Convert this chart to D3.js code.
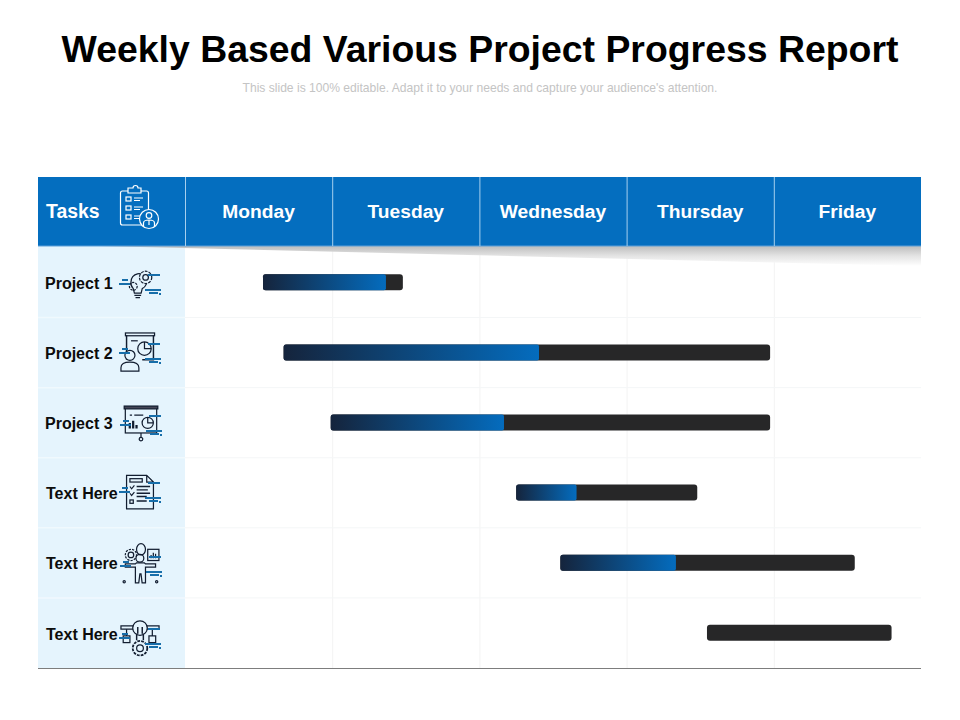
<!DOCTYPE html>
<html><head><meta charset="utf-8"><script src="https://cdn.jsdelivr.net/npm/d3@7"></script>
<style>html,body{margin:0;background:#fff}svg{display:block}text{font-family:"Liberation Sans",Arial,sans-serif}</style></head>
<body><svg id="c" width="960" height="720"></svg>
<script>
const days = ["Monday","Tuesday","Wednesday","Thursday","Friday"];
const tasks = ["Project 1","Project 2","Project 3","Text Here","Text Here","Text Here"];
const starts = [0.53,0.67,0.99,2.25,2.55,3.546];
const ends = [1.48,3.975,3.975,3.48,4.55,4.80];
const progress = [1.365,2.405,2.167,2.66,3.335,3.546];
const title = "Weekly Based Various Project Progress Report";
const subtitle = "This slide is 100% editable. Adapt it to your needs and capture your audience's attention.";

const svg = d3.select("#c");
const x = d3.scaleLinear().domain([0,5]).range([185,921]);
const rowIdx = d3.range(tasks.length);
const y = d3.scaleBand().domain(rowIdx).range([247.5,668]);
const L = 38, HT = 177, HB = 246, R = 921;
const BLUE = "#046ebf", PALE = "#e5f4fd";
const defs = svg.append("defs");
const g1 = defs.append("linearGradient").attr("id","shadow").attr("x1",0).attr("x2",0).attr("y1",0).attr("y2",1);
g1.append("stop").attr("offset",0).attr("stop-color","#bdbdbd");
g1.append("stop").attr("offset",.5).attr("stop-color","#e4e4e4");
g1.append("stop").attr("offset",1).attr("stop-color","#ffffff");
rowIdx.forEach(i=>{
  const g = defs.append("linearGradient").attr("id","bar"+i);
  g.append("stop").attr("offset",0).attr("stop-color","#15243c");
  g.append("stop").attr("offset",1).attr("stop-color","#046cbe");
});

svg.append("text").attr("x",480).attr("y",62).attr("text-anchor","middle").attr("font-size",37.4).attr("font-weight",700).attr("fill","#000").text(title);
svg.append("text").attr("x",480).attr("y",92).attr("text-anchor","middle").attr("font-size",12.1).attr("fill","#c4c4c4").text(subtitle);

svg.append("rect").attr("x",L).attr("y",HB).attr("width",x(0)-L).attr("height",668-HB).attr("fill",PALE);
svg.selectAll("line.v").data(d3.range(1,5)).join("line").attr("class","v")
  .attr("x1",d=>x(d)+.5).attr("x2",d=>x(d)+.5).attr("y1",HB).attr("y2",668).attr("stroke","#f3f3f3");
svg.selectAll("line.h").data(rowIdx.slice(1)).join("line").attr("class","h")
  .attr("x1",x(0)).attr("x2",R).attr("y1",d=>y(d)).attr("y2",d=>y(d)).attr("stroke","#f4f6f7");
svg.selectAll("line.hl").data(rowIdx.slice(1)).join("line").attr("class","hl")
  .attr("x1",L).attr("x2",x(0)).attr("y1",d=>y(d)).attr("y2",d=>y(d)).attr("stroke","#f0f9fe").attr("stroke-width",1.5);
svg.append("line").attr("x1",L).attr("x2",R).attr("y1",668.5).attr("y2",668.5).attr("stroke","#7d7d7d").attr("stroke-width",1.1);
svg.append("path").attr("d",`M${L+60},${HB} L${R},${HB} L${R},266 Z`).attr("fill","url(#shadow)");
svg.append("rect").attr("x",L).attr("y",HT).attr("width",R-L).attr("height",HB-HT).attr("fill",BLUE);
svg.append("line").attr("x1",L).attr("x2",R).attr("y1",HB).attr("y2",HB).attr("stroke","#5c9fd8");
svg.selectAll("line.hv").data(d3.range(0,5)).join("line").attr("class","hv")
  .attr("x1",d=>x(d)+.5).attr("x2",d=>x(d)+.5).attr("y1",HT).attr("y2",HB).attr("stroke","#a6cfee");
svg.selectAll("text.day").data(days).join("text").attr("class","day")
  .attr("x",(d,i)=>x(i+.5)).attr("y",218).attr("text-anchor","middle").attr("font-size",19.2).attr("font-weight",700).attr("fill","#fff").text(d=>d);
svg.append("text").attr("x",46).attr("y",218).attr("font-size",19.4).attr("font-weight",700).attr("fill","#fff").text("Tasks");

const ci = svg.append("g").attr("fill","none").attr("stroke","#fff").attr("stroke-width",1.2);
ci.append("rect").attr("x",120.5).attr("y",191).attr("width",28).attr("height",34).attr("rx",2);
ci.append("path").attr("d","M128,191 v-3 h5 a2.5,2.5 0 0 1 5,0 h3 v5 h-13 z").attr("fill",BLUE);
[197,206,215].forEach(yy=>{
  ci.append("rect").attr("x",126).attr("y",yy).attr("width",5).attr("height",4);
  ci.append("path").attr("d",`M134,${yy+1}h9M134,${yy+3.5}h6`);
});
ci.append("circle").attr("cx",149).attr("cy",219).attr("r",9.5).attr("fill",BLUE);
ci.append("circle").attr("cx",149).attr("cy",215.5).attr("r",2.8);
ci.append("path").attr("d","M143.5,226 v-3 q0,-3 5.5,-3 q5.5,0 5.5,3 v3 M149,220 v5");

const labelX = [45,45,45,46,46,46];
const labelY = [283,353,423,493,563,634];
svg.selectAll("text.task").data(tasks).join("text").attr("class","task")
  .attr("x",(d,i)=>labelX[i]).attr("y",(d,i)=>labelY[i]+5.5).attr("font-size",16).attr("font-weight",700).attr("fill","#0c0c0c").text(d=>d);

const iconFns = [
 g=>{
  g.append("path").attr("d","M-8,-1 a7,7 0 1 1 10,6 l-1,4 h-6 l-1,-4 a7,7 0 0 1 -2,-6z");
  g.append("path").attr("d","M-5,11h6M-4,13h4");
  g.append("circle").attr("cx",5).attr("cy",-5).attr("r",5.5).attr("stroke-dasharray","2.5 1").attr("fill",PALE);
  g.append("circle").attr("cx",5).attr("cy",-5).attr("r",2.5);
  g.append("circle").attr("cx",-6).attr("cy",3).attr("r",3.5).attr("stroke-dasharray","2 1");
 },
 g=>{
  g.append("path").attr("d","M-12,-15 v22 M12,-15 v22 h-10").attr("stroke-width",1.3);
  g.append("rect").attr("x",-13).attr("y",-17).attr("width",26).attr("height",2.5);
  g.append("path").attr("d","M-8,-10h6");
  g.append("circle").attr("cx",4).attr("cy",-3).attr("r",6);
  g.append("path").attr("d","M4,-9 v6 h6");
  g.append("circle").attr("cx",-9).attr("cy",3).attr("r",4.5).attr("fill",PALE);
  g.append("path").attr("d","M-17,17 v-3 q0,-5 8,-5 q8,0 8,5 v3 z").attr("fill",PALE);
 },
 g=>{
  g.append("rect").attr("x",-14).attr("y",-15).attr("width",28).attr("height",23);
  g.append("path").attr("d","M0,8v4");
  g.append("rect").attr("x",-15).attr("y",-16).attr("width",30).attr("height",2.5).attr("fill","#445");
  g.append("circle").attr("cx",0).attr("cy",13.5).attr("r",1.6);
  g.append("path").attr("d","M-6,-8h8M-10,-8h2");
  g.append("path").attr("d","M-10,4v-5M-7,4v-7M-4,4v-3").attr("stroke-width",2);
  g.append("circle").attr("cx",6).attr("cy",-1).attr("r",5);
  g.append("path").attr("d","M6,-6v5h5");
 },
 g=>{
  g.append("path").attr("d","M-12,-14 h18 l6,6 v24 h-24 z M6,-14 v6 h6");
  g.append("rect").attr("x",-9).attr("y",-11).attr("width",11).attr("height",3);
  g.append("path").attr("d","M-9,-4 l1.5,2 l2.5,-3 M-9,2 l1.5,2 l2.5,-3").attr("stroke-width",1);
  g.append("rect").attr("x",-9).attr("y",8).attr("width",3).attr("height",3);
  g.append("path").attr("d","M-3,-4h12M-3,-1h10M-3,2h12M-3,5h9M-3,9h9").attr("stroke-width",1.3);
 },
 g=>{
  g.append("circle").attr("cx",-1).attr("cy",-6).attr("r",3.5);
  g.append("path").attr("d","M-14,-1 h9 l1,-1 h7 l1,1 h9 v3 h-9 l0,14 h-3 l-1,-8 h-1 l-1,8 h-3 l0,-14 h-9 z");
  g.append("ellipse").attr("cx",0).attr("cy",-14).attr("rx",4).attr("ry",5);
  g.append("circle").attr("cx",-9).attr("cy",-9).attr("r",5).attr("stroke-dasharray","2 1");
  g.append("circle").attr("cx",-9).attr("cy",-9).attr("r",2.5);
  g.append("rect").attr("x",6).attr("y",-14).attr("width",10).attr("height",10);
  g.append("path").attr("d","M9,-6v-3M11,-6v-5M13,-6v-4");
  g.append("circle").attr("cx",-15).attr("cy",15).attr("r",1);
  g.append("circle").attr("cx",14).attr("cy",15).attr("r",1);
 },
 g=>{
  g.append("path").attr("d","M-17,-10 h11 v3 h-11z M6,-10 h11 v3 h-11z");
  g.append("circle").attr("cx",0).attr("cy",-8).attr("r",6.5).attr("fill",PALE);
  g.append("path").attr("d","M-3,-3v6M3,-3v6M-2,-9v6M2,-9v6").attr("stroke-width",1.3);
  g.append("rect").attr("x",-15).attr("y",-1).attr("width",6).attr("height",6);
  g.append("rect").attr("x",8).attr("y",-1).attr("width",6).attr("height",6);
  g.append("path").attr("d","M-12,-7v6M11,-7v6");
  g.append("circle").attr("cx",0).attr("cy",10).attr("r",6.5).attr("stroke-dasharray","2.5 1").attr("stroke-width",1.6);
  g.append("circle").attr("cx",0).attr("cy",10).attr("r",3);
 }
];
const iconX = [140,140,141,140,141,140], iconY = [283,352,424,491,565,637];
const iconScale = 1.12;
iconFns.forEach((fn,i)=>{
  const g = svg.append("g").attr("transform",`translate(${iconX[i]},${iconY[i]})`).attr("fill","none").attr("stroke","#121d30");
  const inner = g.append("g").attr("transform",`scale(${iconScale})`).attr("stroke-width",1.1);
  fn(inner);
  const s = g.append("g").attr("stroke","#176eaa").attr("stroke-width",1.9);
  s.append("path").attr("d","M-21,1h11M-18,-3h6M8,-8h12M5,7h16M9,10h9M19,11h2");
});

const bh = 16;
const barY = i => y(i)+y.bandwidth()/2-bh/2-.2;
svg.selectAll("rect.full").data(rowIdx).join("rect").attr("class","full")
  .attr("x",i=>x(starts[i])).attr("width",i=>x(ends[i])-x(starts[i]))
  .attr("y",barY).attr("height",bh).attr("rx",3).attr("fill","#272728");
svg.selectAll("rect.prog").data(rowIdx.filter(i=>progress[i]>starts[i])).join("rect").attr("class","prog")
  .attr("x",i=>x(starts[i])).attr("width",i=>x(progress[i])-x(starts[i]))
  .attr("y",barY).attr("height",bh).attr("rx",2).attr("fill",i=>`url(#bar${i})`);
</script></body></html>
